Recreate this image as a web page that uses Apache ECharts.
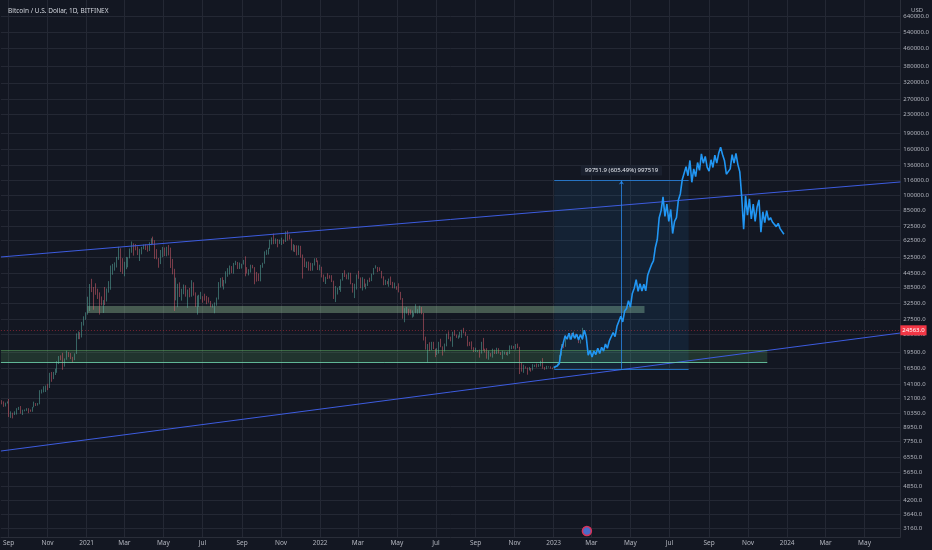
<!DOCTYPE html>
<html>
<head>
<meta charset="utf-8">
<script src="https://cdn.jsdelivr.net/npm/echarts@6/dist/echarts.min.js"></script>
<style>
html, body { margin: 0; padding: 0; background: #131722; }
#chart { width: 932px; height: 550px; }
</style>
</head>
<body>
<div id="chart"></div>
<script>
// BTCUSD (Bitfinex) - 3 day candles, prices in thousands of USD
const DAY = 864e5;
const t = s => { const p = s.split('-').map(Number); return Date.UTC(p[0], p[1] - 1, p[2]); };

const candleStart = '2020-08-18';
const candleStep = 3;
const firstOpen = 11.9;

const closes = [
  11.75, 11.66, 11.33, 11.53, 11.65, 10.2, 10.28, 10.23, 10.44, 10.8,
  10.94, 10.42, 10.74, 10.78, 10.78, 10.62, 10.6, 11.06, 11.55, 11.5,
  11.5, 12.8, 13.1, 13.65, 13.8, 13.55, 15.6, 15.5, 15.7, 16.05,
  17.7, 18.65, 18.4, 17.1, 18.2, 19.2, 19.15, 18.3, 18.05, 19.25,
  22.8, 23.85, 23.25, 26.5, 27.4, 29.4, 31.9, 39.4, 38.2, 37.3,
  36.0, 35.9, 33.0, 32.3, 33.4, 33.1, 37.6, 39.2, 46.4, 47.9,
  48.6, 51.6, 57.5, 49.7, 46.3, 48.4, 48.8, 52.4, 57.3, 59.0,
  58.9, 58.1, 54.3, 55.0, 57.8, 58.8, 58.2, 56.0, 59.8, 63.5,
  61.3, 55.7, 51.7, 49.0, 54.8, 57.8, 53.3, 57.4, 55.8, 49.5,
  46.4, 36.7, 37.5, 38.3, 35.7, 37.3, 39.2, 35.8, 37.4, 35.5,
  40.2, 35.8, 31.6, 34.7, 34.7, 35.0, 34.6, 34.0, 33.8, 33.1,
  31.8, 31.8, 32.1, 33.8, 39.4, 42.2, 39.2, 40.8, 43.8, 45.6,
  47.1, 44.8, 49.3, 49.5, 46.9, 48.8, 48.8, 50.0, 46.8, 44.9,
  44.9, 47.8, 47.3, 43.6, 42.8, 41.0, 48.1, 49.2, 53.8, 54.8,
  57.3, 60.9, 64.3, 60.7, 63.1, 60.6, 61.3, 62.9, 61.5, 67.6,
  64.8, 63.6, 56.9, 58.9, 57.2, 54.7, 57.0, 53.7, 50.6, 47.6,
  50.1, 48.9, 46.8, 49.0, 50.8, 50.7, 47.1, 47.3, 43.5, 41.6,
  42.7, 42.6, 42.2, 40.7, 36.3, 36.8, 38.2, 38.7, 41.6, 43.8,
  43.6, 42.2, 44.6, 40.1, 38.3, 39.2, 43.2, 42.5, 38.4, 41.9,
  38.8, 39.3, 41.1, 41.0, 44.0, 46.8, 47.1, 45.8, 45.5, 42.3,
  39.5, 39.9, 39.7, 41.5, 39.5, 38.1, 38.6, 38.5, 36.6, 34.1,
  29.1, 30.1, 30.4, 29.2, 29.1, 29.2, 29.4, 29.8, 29.9, 31.3,
  29.1, 22.4, 20.4, 20.5, 20.0, 21.5, 20.3, 19.3, 20.2, 21.6,
  20.8, 19.9, 21.2, 23.4, 22.6, 22.0, 23.8, 23.3, 22.8, 23.2,
  23.2, 24.4, 24.1, 23.2, 21.5, 21.4, 20.3, 19.8, 19.8, 19.8,
  19.3, 21.8, 20.2, 20.1, 19.0, 19.4, 19.2, 19.5, 19.3, 20.3,
  19.5, 19.1, 19.2, 19.5, 19.1, 19.6, 20.8, 20.8, 20.5, 21.1,
  20.6, 17.6, 16.3, 16.7, 16.6, 16.2, 16.5, 16.2, 16.9, 17.1,
  16.8, 17.1, 17.8, 16.6, 16.4, 16.8, 16.8, 16.6, 16.5, 16.7,
  16.9, 17.2, 18.9, 20.9, 20.7, 22.8, 22.9, 23.1, 22.8, 23.7,
  22.9, 22.9, 21.7, 22.2, 24.563
];

const highs = [
  12.45, 11.9, 11.75, 11.6, 11.75, 12.05, 10.6, 10.45, 10.6, 10.95,
  11.1, 11.2, 10.78, 10.8, 10.95, 10.95, 10.8, 11.1, 11.72, 11.55,
  11.55, 13.2, 13.3, 13.75, 13.85, 14.1, 15.8, 15.95, 15.95, 16.5,
  17.85, 18.8, 18.95, 19.45, 18.35, 19.9, 19.6, 19.4, 18.65, 19.35,
  23.8, 24.3, 24.1, 26.8, 28.4, 29.6, 34.8, 39.7, 41.9, 38.5,
  40.0, 37.8, 36.4, 34.9, 33.6, 38.5, 37.9, 40.9, 48.1, 48.9,
  49.7, 52.6, 58.4, 57.5, 51.9, 50.0, 52.6, 52.4, 57.4, 61.7,
  60.5, 60.1, 58.6, 57.2, 58.3, 59.8, 60.0, 59.3, 61.2, 63.8,
  64.9, 62.5, 57.0, 52.0, 56.5, 58.3, 58.0, 58.4, 59.5, 57.9,
  51.5, 46.5, 42.4, 39.8, 40.4, 37.8, 39.5, 37.8, 37.5, 38.1,
  41.3, 40.4, 36.4, 35.2, 35.5, 36.6, 35.0, 35.9, 35.1, 34.6,
  33.3, 32.2, 32.8, 34.5, 40.5, 42.3, 42.6, 41.4, 45.3, 46.8,
  48.1, 47.8, 49.4, 50.5, 49.9, 49.6, 49.0, 51.0, 52.9, 47.3,
  46.3, 48.5, 48.4, 47.3, 45.0, 44.3, 48.4, 49.5, 55.7, 56.6,
  57.8, 62.9, 64.4, 67.0, 63.7, 63.3, 62.9, 64.2, 63.0, 68.5,
  69.0, 66.3, 63.6, 60.0, 59.4, 59.3, 59.2, 59.0, 53.9, 51.9,
  50.1, 50.1, 49.5, 49.3, 51.8, 52.0, 50.7, 48.5, 47.5, 43.8,
  42.8, 44.4, 43.5, 43.5, 41.1, 38.9, 38.2, 38.9, 41.7, 44.5,
  45.8, 43.9, 44.7, 44.2, 40.1, 39.8, 43.8, 45.5, 42.5, 42.6,
  41.9, 39.9, 41.5, 42.4, 44.2, 46.9, 48.2, 47.4, 47.2, 45.5,
  43.0, 41.5, 40.9, 42.0, 42.9, 40.6, 40.3, 38.8, 40.0, 36.6,
  34.3, 30.9, 31.3, 30.7, 30.5, 30.2, 29.5, 32.2, 30.6, 31.7,
  31.2, 29.4, 23.0, 21.3, 21.7, 21.8, 21.8, 20.3, 20.4, 21.8,
  22.5, 20.8, 21.4, 23.7, 24.3, 23.0, 24.2, 24.6, 23.5, 23.3,
  24.2, 24.7, 25.2, 24.2, 23.2, 21.8, 21.9, 20.6, 20.5, 20.0,
  20.1, 21.8, 22.7, 20.3, 20.4, 19.9, 19.4, 20.3, 20.1, 20.5,
  20.4, 19.6, 19.9, 19.7, 19.6, 19.7, 21.0, 21.0, 20.9, 21.3,
  21.4, 20.7, 17.6, 17.2, 16.9, 16.7, 16.8, 16.6, 17.3, 17.2,
  17.4, 17.3, 17.9, 18.4, 16.8, 17.0, 16.9, 16.9, 16.7, 16.8,
  17.0, 17.4, 19.0, 21.3, 21.6, 23.3, 23.2, 23.8, 23.9, 24.2,
  23.6, 23.4, 22.9, 22.3, 25.2
];

const lows = [
  11.6, 11.4, 11.1, 11.15, 11.5, 10.0, 9.9, 9.85, 10.2, 10.25,
  10.75, 10.35, 10.2, 10.6, 10.65, 10.4, 10.55, 10.55, 11.05, 11.2,
  11.25, 11.4, 12.75, 12.9, 12.95, 13.2, 13.5, 14.4, 14.8, 15.45,
  15.8, 17.3, 18.0, 16.3, 16.85, 18.1, 18.6, 18.2, 17.6, 18.0,
  19.2, 22.4, 22.4, 22.8, 25.8, 27.4, 28.9, 30.0, 36.5, 30.4,
  35.5, 34.0, 28.9, 31.8, 29.4, 31.9, 33.5, 36.3, 37.4, 43.7,
  45.6, 47.1, 51.0, 45.0, 44.1, 43.0, 46.3, 47.2, 51.8, 54.9,
  53.3, 56.3, 53.6, 50.4, 54.0, 56.9, 56.5, 55.5, 55.9, 59.4,
  60.0, 51.5, 51.3, 47.0, 48.8, 52.4, 53.0, 52.9, 53.4, 46.9,
  43.9, 30.0, 33.5, 31.2, 34.7, 33.4, 35.7, 34.8, 31.0, 34.6,
  34.8, 35.2, 31.3, 28.9, 31.3, 33.9, 32.7, 33.4, 32.2, 32.7,
  31.2, 31.1, 29.3, 31.7, 34.0, 38.3, 38.7, 37.5, 39.9, 42.8,
  43.8, 44.4, 44.2, 48.3, 46.4, 46.4, 46.6, 48.6, 43.0, 44.3,
  43.4, 44.7, 46.7, 39.6, 40.7, 40.9, 40.8, 47.0, 49.0, 53.7,
  53.9, 57.1, 59.8, 60.0, 60.2, 58.1, 60.2, 59.5, 60.2, 61.4,
  62.3, 63.0, 56.3, 55.6, 55.3, 53.4, 53.6, 52.2, 42.0, 47.3,
  46.9, 45.6, 45.5, 45.6, 48.1, 49.8, 45.9, 45.7, 42.5, 40.6,
  39.7, 41.8, 42.0, 40.5, 34.0, 32.9, 35.6, 37.3, 36.6, 41.1,
  42.7, 41.7, 41.6, 39.6, 36.3, 34.3, 37.5, 41.9, 38.0, 37.1,
  38.5, 37.6, 38.9, 40.5, 40.9, 43.7, 46.6, 44.9, 45.4, 42.1,
  39.2, 39.3, 39.6, 38.6, 39.3, 38.0, 37.9, 37.4, 36.4, 33.7,
  27.7, 26.7, 29.2, 28.7, 28.9, 28.0, 28.3, 29.3, 29.2, 29.3,
  29.0, 22.1, 20.1, 17.6, 19.8, 20.9, 20.2, 18.6, 19.0, 19.3,
  20.6, 18.9, 19.7, 20.8, 22.4, 21.9, 20.7, 23.2, 22.7, 22.5,
  22.8, 22.7, 23.8, 23.1, 20.8, 20.9, 20.1, 19.6, 19.6, 19.6,
  18.5, 19.3, 19.9, 19.5, 18.3, 18.1, 18.7, 18.5, 19.2, 19.2,
  19.3, 19.0, 18.2, 19.1, 19.0, 18.9, 19.2, 20.2, 20.3, 20.1,
  20.4, 15.6, 16.0, 15.8, 16.5, 15.5, 16.2, 16.0, 16.2, 16.8,
  16.7, 16.8, 16.9, 16.5, 16.3, 16.4, 16.7, 16.5, 16.4, 16.5,
  16.7, 16.9, 17.2, 18.9, 20.4, 20.7, 22.5, 22.3, 22.6, 22.8,
  22.8, 22.6, 21.5, 21.4, 22.2
];

// projected path (bars pattern drawing), one point every 3 days
const projStart = '2023-01-01';
const projStep = 3;
const projection = [
  16.7, 16.4, 17.0, 17.5, 20.2, 21.5, 23.2, 22.4, 23.8, 22.3,
  23.9, 22.6, 23.6, 22.2, 23.5, 22.4, 24.6, 22.9, 19.0, 19.9,
  18.6, 19.8, 19.1, 20.4, 19.3, 20.6, 19.8, 21.3, 20.4, 22.0,
  21.6, 24.0, 23.0, 25.6, 25.2, 28.4, 26.8, 30.0, 30.8, 33.4,
  31.2, 36.0, 38.0, 41.5, 36.8, 39.8, 36.9, 39.6, 37.0, 43.5,
  46.0, 48.5, 50.5, 58.0, 63.0, 79.0, 85.0, 98.0, 80.0, 91.0,
  76.0, 86.0, 67.0, 76.0, 79.0, 95.0, 101.0, 117.0, 116.0, 134.0,
  122.0, 143.0, 114.0, 131.0, 121.0, 140.0, 129.0, 153.0, 139.0, 149.0,
  133.0, 128.0, 144.0, 133.0, 151.0, 139.0, 154.0, 164.0, 152.0, 143.0,
  124.0, 124.0, 131.0, 152.0, 139.0, 154.0, 137.0, 127.0, 98.0, 70.0,
  99.0, 81.0, 96.0, 78.0, 91.0, 76.0, 88.0, 95.0, 68.0, 84.0,
  75.0, 85.0, 77.0, 79.0, 75.5, 76.0, 72.0, 74.5, 70.5, 71.5,
  66.5
];

// axis ticks
const priceTicks = [3160, 3640, 4200, 4850, 5650, 6550, 7750, 8950, 10350, 12100,
  14100, 16500, 19500, 23500, 27500, 32500, 38500, 44500, 52500, 62500, 72500,
  85000, 100000, 116000, 136000, 160000, 190000, 230000, 270000, 320000,
  380000, 460000, 540000, 640000];
const monthTicks = ['2020-09-01', '2020-11-01', '2021-01-01', '2021-03-01', '2021-05-01',
  '2021-07-01', '2021-09-01', '2021-11-01', '2022-01-01', '2022-03-01', '2022-05-01',
  '2022-07-01', '2022-09-01', '2022-11-01', '2023-01-01', '2023-03-01', '2023-05-01',
  '2023-07-01', '2023-09-01', '2023-11-01', '2024-01-01', '2024-03-01', '2024-05-01'];
const monthNames = ['Jan', 'Feb', 'Mar', 'Apr', 'May', 'Jun', 'Jul', 'Aug', 'Sep', 'Oct', 'Nov', 'Dec'];

// drawings (date, price)
const upperTrend = [['2020-08-20', 52550], ['2024-06-26', 114400]];
const lowerTrend = [['2020-08-20', 7023], ['2024-06-26', 23883]];
const upperZone = [['2021-01-02', 29400], ['2023-05-23', 31600]];
const lowerZone = [['2020-08-20', 17700], ['2023-12-01', 20000]];
const rangeBox = [['2023-01-02', 16474.6], ['2023-07-31', 116226.5]];
const lastPrice = 24563;
const eventMark = ['2023-02-22', 3063];

// build series data
const candles = closes.map((c, i) => {
  const o = i === 0 ? firstOpen : closes[i - 1];
  return [t(candleStart) + i * candleStep * DAY, o * 1000, c * 1000,
    Math.min(lows[i], o, c) * 1000, Math.max(highs[i], o, c) * 1000];
});
const projData = projection.map((v, j) => [t(projStart) + j * projStep * DAY, v * 1000]);

const pt = p => [t(p[0]), p[1]];
const rangeMid = (t(rangeBox[0][0]) + t(rangeBox[1][0])) / 2;
const rangeDelta = rangeBox[1][1] - rangeBox[0][1];
const rangeText = rangeDelta.toFixed(1) + ' (' + (rangeDelta / rangeBox[0][1] * 100).toFixed(2) + '%) ' + Math.round(rangeDelta * 10);

const trendStyle = { color: '#3d5ce0', width: 1, type: 'solid' };
const rangeStyle = { color: 'rgba(41,140,240,0.75)', width: 1, type: 'solid' };
const font = 'Noto Sans';

const chart = echarts.init(document.getElementById('chart'));
chart.setOption({
  animation: false,
  backgroundColor: '#131722',
  title: [
    { text: 'Bitcoin / U.S. Dollar, 1D, BITFINEX', left: 3, top: 3,
      textStyle: { color: '#d1d4dc', fontSize: 6.5, fontWeight: 'normal', fontFamily: font } },
    { text: 'USD', left: 906, top: 2,
      textStyle: { color: '#b2b5be', fontSize: 6, fontWeight: 'normal', fontFamily: font } }
  ],
  grid: { left: 0, right: 29, top: 0, bottom: 13, containLabel: false },
  xAxis: {
    type: 'value',
    min: t('2020-08-20'),
    max: t('2024-06-26'),
    axisLine: { lineStyle: { color: '#2a2e39' } },
    axisTick: { show: false, customValues: monthTicks.map(t) },
    axisLabel: {
      customValues: monthTicks.map(t),
      color: '#b2b5be', fontSize: 6.5, fontFamily: font, margin: 3,
      formatter: v => { const d = new Date(v); return d.getUTCMonth() === 0 ? String(d.getUTCFullYear()) : monthNames[d.getUTCMonth()]; }
    },
    splitLine: { show: true, lineStyle: { color: '#242834', width: 1 } }
  },
  yAxis: {
    type: 'log',
    logBase: 10,
    position: 'right',
    min: 2879,
    max: 755200,
    axisLine: { show: true, lineStyle: { color: '#2a2e39' } },
    axisTick: { show: false, customValues: priceTicks },
    axisLabel: {
      customValues: priceTicks,
      color: '#b2b5be', fontSize: 6, fontFamily: font, margin: 3,
      formatter: v => Number(v).toFixed(1)
    },
    splitLine: { show: true, lineStyle: { color: '#242834', width: 1 } }
  },
  series: [
    {
      type: 'candlestick',
      data: candles,
      barWidth: 1.2,
      itemStyle: {
        color: '#5bb3a6', color0: '#e0626f',
        borderColor: '#5bb3a6', borderColor0: '#e0626f',
        borderWidth: 0.7, opacity: 0.72
      },
      markArea: {
        silent: true,
        label: { show: false },
        data: [
          [{ coord: pt(upperZone[0]), itemStyle: { color: 'rgba(165,214,167,0.35)' } }, { coord: pt(upperZone[1]) }],
          [{ coord: pt(lowerZone[0]), itemStyle: { color: 'rgba(102,187,106,0.18)' } }, { coord: pt(lowerZone[1]) }],
          [{ coord: pt(rangeBox[0]), itemStyle: { color: 'rgba(33,150,243,0.09)' } }, { coord: pt(rangeBox[1]) }]
        ]
      },
      markLine: {
        silent: true,
        symbol: 'none',
        label: { show: false },
        data: [
          [{ coord: pt(upperTrend[0]), lineStyle: trendStyle }, { coord: pt(upperTrend[1]) }],
          [{ coord: pt(lowerTrend[0]), lineStyle: trendStyle }, { coord: pt(lowerTrend[1]) }],
          [{ coord: [t(lowerZone[0][0]), lowerZone[0][1]], lineStyle: { color: 'rgba(110,210,170,0.85)', width: 1, type: 'solid' } },
           { coord: [t(lowerZone[1][0]), lowerZone[0][1]] }],
          [{ coord: [t(lowerZone[0][0]), lowerZone[1][1]], lineStyle: { color: 'rgba(102,187,106,0.4)', width: 1, type: 'solid' } },
           { coord: [t(lowerZone[1][0]), lowerZone[1][1]] }],
          [{ coord: [t(rangeBox[0][0]), rangeBox[1][1]], lineStyle: rangeStyle }, { coord: [t(rangeBox[1][0]), rangeBox[1][1]] }],
          [{ coord: [t(rangeBox[0][0]), rangeBox[0][1]], lineStyle: rangeStyle }, { coord: [t(rangeBox[1][0]), rangeBox[0][1]] }],
          [{ coord: [rangeMid, rangeBox[0][1]], lineStyle: rangeStyle },
           { coord: [rangeMid, rangeBox[1][1]], symbol: 'arrow', symbolSize: 4,
             label: { show: true, position: 'end', distance: 5, formatter: rangeText,
               color: '#e6e9f0', fontSize: 6, fontFamily: font,
               backgroundColor: 'rgba(28,33,48,0.9)', padding: [2, 4] } }],
          { yAxis: lastPrice,
            lineStyle: { color: 'rgba(242,54,69,0.45)', width: 1, type: [1, 2] },
            label: { show: true, position: 'end', distance: 0, formatter: lastPrice.toFixed(1),
              color: '#ffffff', fontSize: 6, fontFamily: font, backgroundColor: '#f23645', padding: [2, 2] } }
        ]
      },
      markPoint: {
        silent: true,
        label: { show: false },
        data: [{ coord: pt(eventMark), symbol: 'circle', symbolSize: 9,
          itemStyle: { color: '#4a6cc8', borderColor: '#d6335a', borderWidth: 1.5 } }]
      }
    },
    {
      type: 'line',
      data: projData,
      showSymbol: false,
      z: 5,
      lineStyle: { color: '#2196f3', width: 1.6 }
    }
  ]
});
</script>
</body>
</html>
